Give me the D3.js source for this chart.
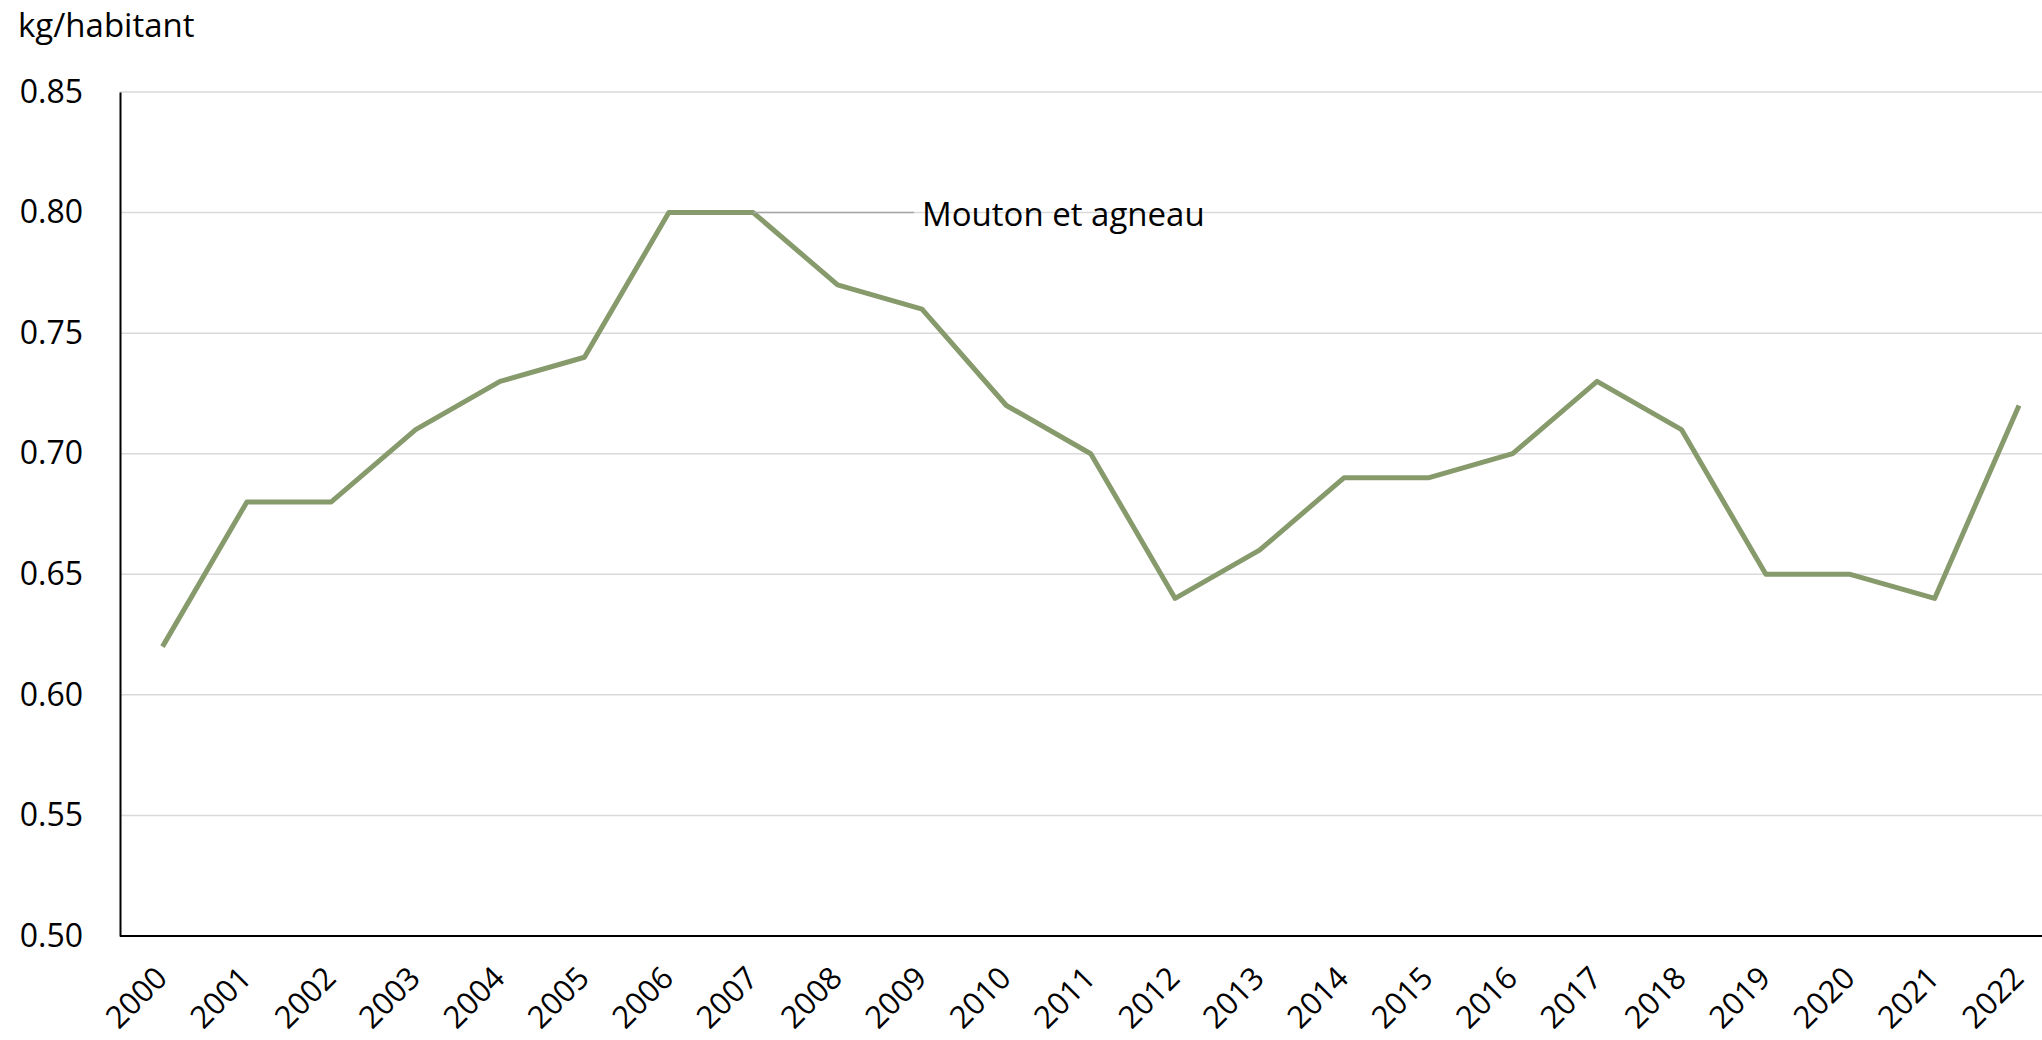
<!DOCTYPE html>
<html>
<head>
<meta charset="utf-8">
<script src="https://cdn.jsdelivr.net/npm/d3@7"></script>
<style>
  body { margin: 0; background: #fff; }
  svg { display: block; font-family: "Open Sans", sans-serif; }
</style>
</head>
<body>
<script>
var years = ["2000","2001","2002","2003","2004","2005","2006","2007","2008","2009","2010","2011",
             "2012","2013","2014","2015","2016","2017","2018","2019","2020","2021","2022"];
var mouton = [0.62,0.68,0.68,0.71,0.73,0.74,0.80,0.80,0.77,0.76,0.72,0.70,
              0.64,0.66,0.69,0.69,0.70,0.73,0.71,0.65,0.65,0.64,0.72];
var yTicks = [0.50,0.55,0.60,0.65,0.70,0.75,0.80,0.85];
var seriesName = "Mouton et agneau";
var unitLabel = "kg/habitant";

var W = 2042, H = 1040;
var margin = {top: 92, right: 0, bottom: 104, left: 120};

var svg = d3.select("body").append("svg")
    .attr("width", W)
    .attr("height", H);

var x = d3.scalePoint()
    .domain(years)
    .range([162.5, 2019]);

var y = d3.scaleLinear()
    .domain([0.50, 0.85])
    .range([H - margin.bottom, margin.top]);

// gridlines
svg.append("g")
  .selectAll("line")
  .data(yTicks.slice(1))
  .enter().append("line")
    .attr("x1", margin.left)
    .attr("x2", W)
    .attr("y1", d => y(d))
    .attr("y2", d => y(d))
    .attr("stroke", "#d9d9d9")
    .attr("stroke-width", 1.5);

// y axis
var yAxis = svg.append("g")
    .attr("transform", "translate(" + margin.left + ",0)")
    .call(d3.axisLeft(y).tickValues(yTicks).tickFormat(d3.format(".2f")).tickSize(0).tickPadding(37));
yAxis.select(".domain").attr("stroke", "#000").attr("stroke-width", 2);
yAxis.selectAll("text").attr("font-size", 32).attr("fill", "#000")
    .attr("font-family", "Open Sans, sans-serif");

// x axis
var xAxis = svg.append("g")
    .attr("transform", "translate(0," + y(0.50) + ")")
    .call(d3.axisBottom(x).tickSize(0));
xAxis.select(".domain").attr("d", "M" + margin.left + ",0H" + W)
    .attr("stroke", "#000").attr("stroke-width", 2);
xAxis.selectAll("text")
    .attr("font-size", 31)
    .attr("fill", "#000")
    .attr("font-family", "Open Sans, sans-serif")
    .attr("y", 0).attr("dy", 0)
    .attr("transform", "translate(6,44) rotate(-45)")
    .style("text-anchor", "end");

// line
var line = d3.line()
    .x((d, i) => x(years[i]))
    .y(d => y(d));

svg.append("path")
    .datum(mouton)
    .attr("fill", "none")
    .attr("stroke", "#879a6c")
    .attr("stroke-width", 5)
    .attr("stroke-linejoin", "round")
    .attr("d", line);

// label with leader line
var i7 = years.indexOf("2007");
svg.append("line")
    .attr("x1", x(years[i7]))
    .attr("x2", 914)
    .attr("y1", y(mouton[i7]))
    .attr("y2", y(mouton[i7]))
    .attr("stroke", "#a6a6a6")
    .attr("stroke-width", 1.5);
svg.append("text")
    .attr("x", 922)
    .attr("y", y(mouton[i7]))
    .attr("dy", "0.42em")
    .attr("font-size", 33)
    .text(seriesName);

svg.append("text")
    .attr("x", 18)
    .attr("y", 37)
    .attr("font-size", 33)
    .text(unitLabel);
</script>
</body>
</html>
